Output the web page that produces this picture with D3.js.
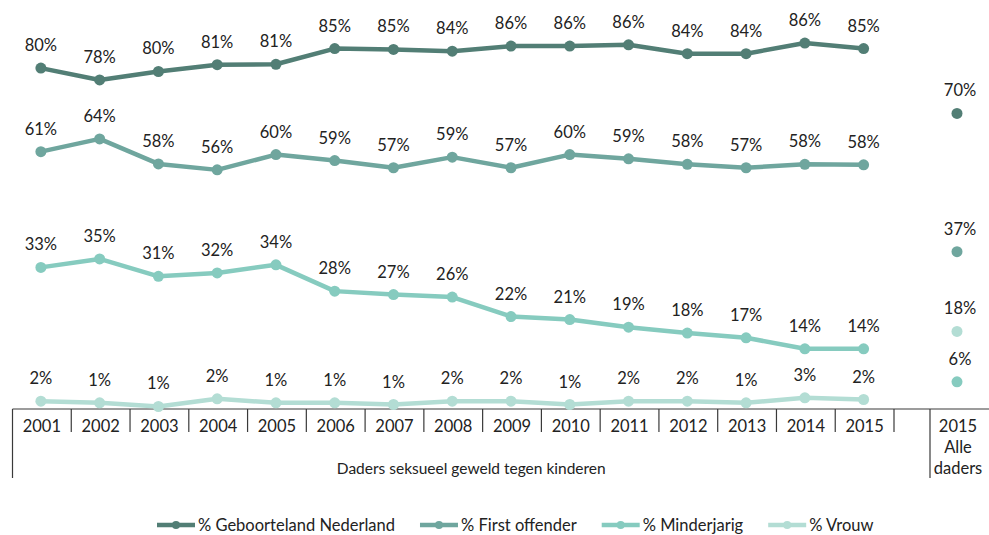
<!DOCTYPE html>
<html><head><meta charset="utf-8">
<script src="https://cdn.jsdelivr.net/npm/d3@7"></script>
<style>
html,body{margin:0;padding:0;background:#fff;}
svg{display:block;font-family:Lato,"Open Sans",sans-serif;}
</style></head>
<body>
<svg id="chart" width="989" height="535"></svg>
<script>
const years = ["2001","2002","2003","2004","2005","2006","2007","2008","2009","2010","2011","2012","2013","2014","2015"];
const groupLabel = "Daders seksueel geweld tegen kinderen";
const allCategory = "2015 Alle daders";
const seriesNames = ["% Geboorteland Nederland","% First offender","% Minderjarig","% Vrouw"];
const geboorteland = [80.4,77.6,79.6,81.2,81.3,85.0,84.8,84.4,85.6,85.6,85.9,83.8,83.8,86.3,85.0];
const firstOffender = [60.7,63.7,57.8,56.4,60.0,58.6,56.9,59.4,56.9,60.0,59.0,57.7,56.9,57.7,57.6];
const minderjarig = [33.4,35.4,31.3,32.1,34.0,27.8,27.0,26.4,21.8,21.1,19.3,17.9,16.8,14.2,14.2];
const vrouw = [1.84,1.46,0.59,2.4,1.46,1.46,1.06,1.84,1.84,1.06,1.84,1.84,1.46,2.64,2.24];
const alleDaders = [69.7,37.1,6.4,18.3];
const colors = ["#527e75","#6fa69e","#86cbbf","#b3ddd4"];

const series = [geboorteland, firstOffender, minderjarig, vrouw];

const svg = d3.select("#chart");
const axisY = 409;
const fs = 16.5;
const x = d3.scaleBand().domain(years).range([12.5, 894]).padding(0);
const xAll = d3.scaleBand().domain([allCategory]).range([930, 986]).padding(0);
const y = d3.scaleLinear().domain([0, 90]).range([axisY, axisY - 90*4.24]);
const fmt = v => Math.round(v) + "%";
const cx = d => x(d) + x.bandwidth()/2 - 1;

// axis
const ax = svg.append("g").attr("stroke","#3a3a3a").attr("stroke-width",1.2);
ax.append("line").attr("x1",12.5).attr("x2",989).attr("y1",axisY).attr("y2",axisY);
years.forEach((yr,i)=>{
  if(i>0) ax.append("line").attr("x1",x(yr)).attr("x2",x(yr)).attr("y1",axisY).attr("y2",432);
});
ax.append("line").attr("x1",x.range()[1]).attr("x2",x.range()[1]).attr("y1",axisY).attr("y2",432);
ax.append("line").attr("x1",12.5).attr("x2",12.5).attr("y1",axisY).attr("y2",478);
ax.append("line").attr("x1",xAll.range()[0]).attr("x2",xAll.range()[0]).attr("y1",axisY).attr("y2",478);

svg.append("g").selectAll("text").data(years).join("text")
  .attr("x",d=>x(d)+x.bandwidth()/2).attr("y",432).attr("text-anchor","middle")
  .attr("font-size",fs).attr("fill","#222").text(d=>d);
svg.append("text").attr("x",(12.5+xAll.range()[0])/2).attr("y",474).attr("text-anchor","middle")
  .attr("font-size",15.5).attr("fill","#222").text(groupLabel);
const allParts = ["2015","Alle","daders"];
svg.append("g").selectAll("text").data(allParts).join("text")
  .attr("x",xAll(allCategory)+xAll.bandwidth()/2).attr("y",(d,i)=>432+i*21).attr("text-anchor","middle")
  .attr("font-size",fs).attr("fill","#222").text(d=>d);

// lines
const line = d3.line().x((d,i)=>cx(years[i])).y(d=>y(d));
series.forEach((s,k)=>{
  const g = svg.append("g");
  g.append("path").datum(s).attr("d",line).attr("fill","none")
    .attr("stroke",colors[k]).attr("stroke-width",4.5).attr("stroke-linejoin","round");
  g.selectAll("circle").data(s).join("circle")
    .attr("cx",(d,i)=>cx(years[i])).attr("cy",d=>y(d)).attr("r",5.5).attr("fill",colors[k]);
  g.selectAll("text").data(s).join("text")
    .attr("x",(d,i)=>cx(years[i])).attr("y",d=>y(d)-17).attr("text-anchor","middle")
    .attr("font-size",fs).attr("fill","#222").text(fmt);
  // alle daders
  const ax2 = xAll(allCategory)+xAll.bandwidth()/2 - 1;
  g.append("circle").attr("cx",ax2).attr("cy",y(alleDaders[k])).attr("r",5.5).attr("fill",colors[k]);
  g.append("text").attr("x",ax2+3).attr("y",y(alleDaders[k])-17).attr("text-anchor","middle")
    .attr("font-size",fs).attr("fill","#222").text(fmt(alleDaders[k]));
});

// legend
const lg = svg.append("g");
let lx = 157;
seriesNames.forEach((n,k)=>{
  const g = lg.append("g").attr("transform",`translate(${lx},525)`);
  g.append("line").attr("x1",0).attr("x2",38).attr("stroke",colors[k]).attr("stroke-width",4.5);
  g.append("circle").attr("cx",19).attr("r",4).attr("fill",colors[k]);
  const t = g.append("text").attr("x",41).attr("y",6).attr("font-size",fs).attr("fill","#222").text(n);
  lx += 41 + t.node().getComputedTextLength() + 25;
});
</script>
</body></html>
